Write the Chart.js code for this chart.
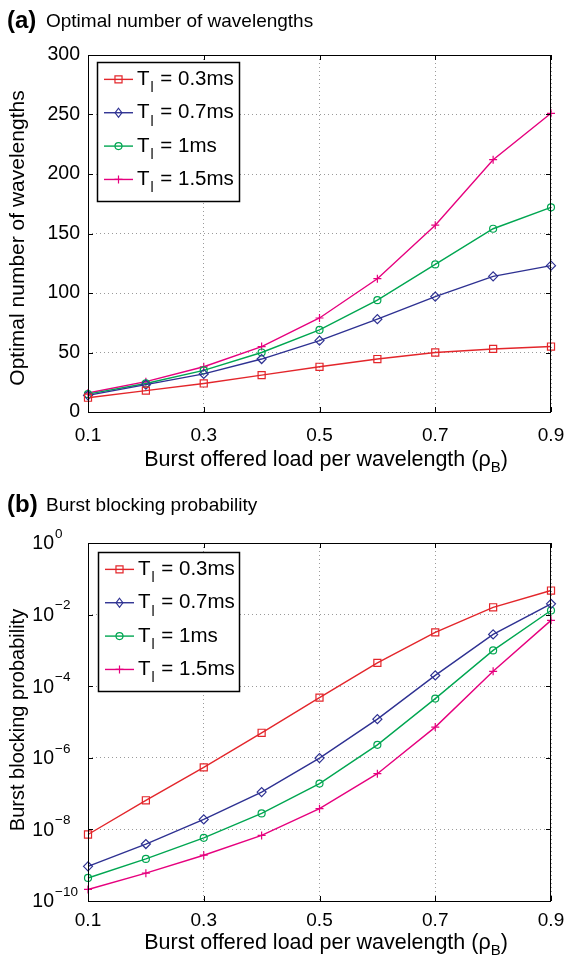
<!DOCTYPE html>
<html lang="en">
<head>
<meta charset="UTF-8" />
<title>Optimal wavelengths and burst blocking probability</title>
<script src="https://cdn.jsdelivr.net/npm/chart.js@4.4.0/dist/chart.umd.min.js"></script>
<style>
  body { margin: 0; background: #fff; }
  #wrap { position: relative; width: 567px; height: 958px; }
  .panel { position: absolute; left: 0; width: 567px; }
  #panelA { top: 0; height: 480px; }
  #panelB { top: 480px; height: 478px; }
</style>
</head>
<body>
<div id="wrap">
  <div class="panel" id="panelA"><canvas id="chartA"></canvas></div>
  <div class="panel" id="panelB"><canvas id="chartB"></canvas></div>
</div>

<script>
// burst offered load per wavelength (x axis of both panels)
const loads = [0.1, 0.2, 0.3, 0.4, 0.5, 0.6, 0.7, 0.8, 0.9];
const xTicks = [0.1, 0.3, 0.5, 0.7, 0.9];
const durations = ['0.3ms', '0.7ms', '1ms', '1.5ms'];

// (a) optimal number of wavelengths
const wavesT03 = [12, 18, 24, 31, 38, 44.5, 50, 53, 55];
const wavesT07 = [14, 23, 32, 44.5, 60, 78, 97, 114, 123];
const wavesT1 = [15, 24, 35, 50, 69, 94, 124, 154, 172];
const wavesT15 = [16, 25.5, 38, 55, 79, 112, 157, 212, 251];
const wavesTicks = [0, 50, 100, 150, 200, 250, 300];

// (b) burst blocking probability
const blockT03 = [7.2e-9, 6.5e-8, 5.4e-7, 5.0e-6, 4.8e-5, 4.5e-4, 3.2e-3, 1.6e-2, 4.7e-2];
const blockT07 = [9.3e-10, 3.9e-9, 1.9e-8, 1.1e-7, 9.8e-7, 1.2e-5, 2.0e-4, 2.8e-3, 2.0e-2];
const blockT1 = [4.4e-10, 1.5e-9, 5.8e-9, 2.8e-8, 1.9e-7, 2.3e-6, 4.5e-5, 1.0e-3, 1.3e-2];
const blockT15 = [2.1e-10, 6.0e-10, 1.9e-9, 6.8e-9, 3.8e-8, 3.6e-7, 7.2e-6, 2.6e-4, 6.9e-3];
const blockTicks = [1e-10, 1e-8, 1e-6, 1e-4, 1e-2, 1];

const colors = ['#e3262b', '#2e3192', '#00a651', '#e6007e'];
const markers = ['rect', 'rectRot', 'circle', 'cross'];
const markerSize = [5, 4.5, 3.5, 4];
const FONT = '"Liberation Sans", Arial, Helvetica, sans-serif';

function makeSets(series) {
  return series.map((vals, i) => ({
    label: 'Tl = ' + durations[i],
    data: loads.map((x, j) => ({ x: x, y: vals[j] })),
    borderColor: colors[i],
    borderWidth: 1.4,
    pointStyle: markers[i],
    pointRadius: markerSize[i],
    pointBorderColor: colors[i],
    pointBackgroundColor: 'rgba(0,0,0,0)',
    pointBorderWidth: 1.2,
    tension: 0,
    clip: false
  }));
}

// small marker drawer for the legend box
function drawMarker(ctx, style, x, y, r, color) {
  ctx.save();
  ctx.strokeStyle = color;
  ctx.lineWidth = 1.2;
  ctx.beginPath();
  if (style === 'rect') {
    const s = r * Math.SQRT1_2;
    ctx.rect(x - s, y - s, 2 * s, 2 * s);
  } else if (style === 'rectRot') {
    ctx.moveTo(x, y - r); ctx.lineTo(x + r * 0.75, y); ctx.lineTo(x, y + r); ctx.lineTo(x - r * 0.75, y); ctx.closePath();
  } else if (style === 'circle') {
    ctx.arc(x, y, r, 0, Math.PI * 2);
  } else {
    ctx.moveTo(x - r, y); ctx.lineTo(x + r, y); ctx.moveTo(x, y - r); ctx.lineTo(x, y + r);
  }
  ctx.stroke();
  ctx.restore();
}

// matlab style frame, titles, legend and log tick labels
const matlabLook = {
  id: 'matlabLook',
  afterDraw(chart, args, opts) {
    const ctx = chart.ctx;
    const a = chart.chartArea;
    const xs = chart.scales.x, ys = chart.scales.y;
    ctx.save();
    ctx.fillStyle = '#000';
    ctx.strokeStyle = '#000';
    ctx.lineWidth = 1;

    // box
    ctx.strokeRect(a.left + 0.5, a.top + 0.5, a.right - a.left - 1, a.bottom - a.top);

    // inward ticks on all four sides
    ctx.beginPath();
    xs.ticks.forEach(t => {
      const px = Math.round(xs.getPixelForValue(t.value)) + 0.5;
      ctx.moveTo(px, a.bottom); ctx.lineTo(px, a.bottom - 5);
      ctx.moveTo(px, a.top); ctx.lineTo(px, a.top + 5);
    });
    ys.ticks.forEach(t => {
      const py = Math.round(ys.getPixelForValue(t.value)) + 0.5;
      ctx.moveTo(a.left, py); ctx.lineTo(a.left + 5, py);
      ctx.moveTo(a.right, py); ctx.lineTo(a.right - 5, py);
    });
    ctx.stroke();

    // power of ten labels
    if (opts.logLabels) {
      ys.ticks.forEach(t => {
        const py = ys.getPixelForValue(t.value);
        const e = Math.round(Math.log10(t.value));
        ctx.textBaseline = 'middle';
        ctx.font = '19.5px ' + FONT;
        ctx.textAlign = 'right';
        ctx.fillText('10', 54, py + 1);
        ctx.font = '13.5px ' + FONT;
        ctx.textAlign = 'left';
        ctx.fillText(e < 0 ? '\u2212' + (-e) : String(e), 55, py - 9);
      });
    }

    // panel title
    ctx.textBaseline = 'middle';
    ctx.textAlign = 'left';
    ctx.font = 'bold 24px ' + FONT;
    ctx.fillText(opts.tag, 7, opts.titleY);
    ctx.font = '19px ' + FONT;
    ctx.fillText(opts.title, 46, opts.titleY + 1);

    // x title with subscript
    const big = '21.5px ' + FONT, small = '15px ' + FONT;
    ctx.font = big;
    const main = 'Burst offered load per wavelength (\u03c1';
    const w1 = ctx.measureText(main).width;
    ctx.font = small;
    const w2 = ctx.measureText('B').width;
    ctx.font = big;
    const w3 = ctx.measureText(')').width;
    const x0 = opts.xTitleX - (w1 + w2 + w3) / 2;
    ctx.fillText(main, x0, opts.xTitleY);
    ctx.font = small;
    ctx.fillText('B', x0 + w1, opts.xTitleY + 8);
    ctx.font = big;
    ctx.fillText(')', x0 + w1 + w2, opts.xTitleY);

    // y title
    ctx.save();
    ctx.translate(opts.yTitleX, opts.yTitleY);
    ctx.rotate(-Math.PI / 2);
    ctx.textAlign = 'center';
    ctx.font = opts.yTitleSize + 'px ' + FONT;
    ctx.fillText(opts.yTitle, 0, 0);
    ctx.restore();

    // legend box
    const bx = a.left + opts.legend.dx, by = a.top + opts.legend.dy;
    const bw = opts.legend.w, bh = opts.legend.h;
    ctx.fillStyle = '#fff';
    ctx.fillRect(bx, by, bw, bh);
    ctx.strokeStyle = '#000';
    ctx.lineWidth = 1.5;
    ctx.strokeRect(bx + 0.5, by + 0.5, bw, bh);
    chart.data.datasets.forEach((ds, i) => {
      const ry = by + bh * 0.125 + i * bh * 0.24;
      ctx.strokeStyle = ds.borderColor;
      ctx.lineWidth = 1.4;
      ctx.beginPath();
      ctx.moveTo(bx + 7, ry); ctx.lineTo(bx + 36, ry);
      ctx.stroke();
      drawMarker(ctx, ds.pointStyle, bx + 21.5, ry, ds.pointRadius, ds.borderColor);
      ctx.fillStyle = '#000';
      ctx.textAlign = 'left';
      ctx.textBaseline = 'middle';
      let tx = bx + 40;
      ctx.font = '20.5px ' + FONT;
      ctx.fillText('T', tx, ry);
      tx += ctx.measureText('T').width + 1;
      ctx.font = '14px ' + FONT;
      ctx.fillText('l', tx, ry + 9);
      tx += ctx.measureText('l').width + 1;
      ctx.font = '20.5px ' + FONT;
      ctx.fillText(' = ' + durations[i], tx, ry);
    });
    ctx.restore();
  }
};

function xScale(pad) {
  return {
    type: 'linear',
    min: 0.1,
    max: 0.9,
    afterBuildTicks: s => { s.ticks = xTicks.map(v => ({ value: v })); },
    afterFit: s => { s.height = pad.h; s.paddingLeft = 0; s.paddingRight = 0; },
    ticks: {
      autoSkip: false,
      maxRotation: 0,
      padding: pad.p,
      color: '#000',
      font: { family: FONT, size: 19 },
      callback: v => v.toFixed(1)
    },
    grid: { color: '#9a9a9a', drawTicks: false, lineWidth: 1 },
    border: { display: false, dash: [1, 3] }
  };
}

function fixY(s) {
  s.width = 88;
  s.paddingTop = 0;
  s.paddingBottom = 0;
}

Chart.defaults.animation = false;
Chart.defaults.events = [];

new Chart(document.getElementById('chartA'), {
  type: 'line',
  data: { datasets: makeSets([wavesT03, wavesT07, wavesT1, wavesT15]) },
  options: {
    responsive: true,
    maintainAspectRatio: false,
    layout: { padding: { top: 55, right: 16, left: 0, bottom: 0 } },
    plugins: {
      legend: { display: false },
      tooltip: { enabled: false },
      matlabLook: {
        tag: '(a)', title: 'Optimal number of wavelengths', titleY: 21,
        xTitleX: 326, xTitleY: 460,
        yTitle: 'Optimal number of wavelengths', yTitleSize: 21, yTitleX: 18, yTitleY: 238,
        legend: { dx: 9, dy: 7, w: 142, h: 139 }
      }
    },
    scales: {
      x: xScale({ h: 68, p: 12 }),
      y: {
        type: 'linear',
        min: 0,
        max: 300,
        afterBuildTicks: s => { s.ticks = wavesTicks.map(v => ({ value: v })); },
        afterFit: fixY,
        ticks: { padding: 8, color: '#000', font: { family: FONT, size: 19.5 } },
        grid: { color: '#9a9a9a', drawTicks: false, lineWidth: 1 },
        border: { display: false, dash: [1, 3] }
      }
    }
  },
  plugins: [matlabLook]
});

new Chart(document.getElementById('chartB'), {
  type: 'line',
  data: { datasets: makeSets([blockT03, blockT07, blockT1, blockT15]) },
  options: {
    responsive: true,
    maintainAspectRatio: false,
    layout: { padding: { top: 63, right: 16, left: 0, bottom: 0 } },
    plugins: {
      legend: { display: false },
      tooltip: { enabled: false },
      matlabLook: {
        tag: '(b)', title: 'Burst blocking probability', titleY: 25,
        xTitleX: 326, xTitleY: 463,
        yTitle: 'Burst blocking probability', yTitleSize: 20, yTitleX: 18, yTitleY: 240,
        legend: { dx: 10, dy: 9, w: 141, h: 139 },
        logLabels: true
      }
    },
    scales: {
      x: xScale({ h: 57, p: 8 }),
      y: {
        type: 'logarithmic',
        min: 1e-10,
        max: 1,
        afterBuildTicks: s => { s.ticks = blockTicks.map(v => ({ value: v })); },
        afterFit: fixY,
        ticks: { autoSkip: false, callback: () => '' },
        grid: { color: '#9a9a9a', drawTicks: false, lineWidth: 1 },
        border: { display: false, dash: [1, 3] }
      }
    }
  },
  plugins: [matlabLook]
});
</script>
</body>
</html>
